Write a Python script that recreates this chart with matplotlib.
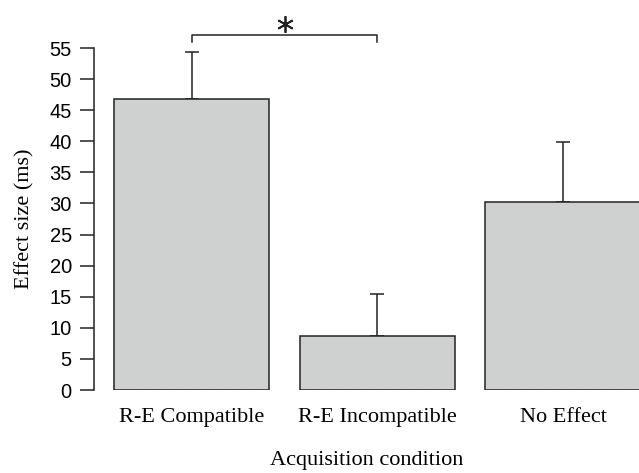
import numpy as np
import matplotlib
matplotlib.use('Agg')
import matplotlib.pyplot as plt

# data
conditions = ['R-E Compatible', 'R-E Incompatible', 'No Effect']
effect_ms = [46.8, 8.7, 30.2]
error_ms = [7.5, 6.7, 9.7]
y_ticks = list(range(0, 60, 5))

bar_color = '#cfd1d0'
edge_color = '#222222'
serif = ['Liberation Serif', 'DejaVu Serif']
sans = ['Liberation Sans', 'DejaVu Sans']

fig = plt.figure(figsize=(6.39, 4.73), dpi=100)
ax = fig.add_axes([94 / 639, 83 / 473, 545 / 639, 342 / 473])

x = np.arange(len(conditions))
ax.bar(x, effect_ms, width=0.835, color=bar_color, edgecolor=edge_color,
       linewidth=1.1, zorder=2)
# only the upper half of the error bars is drawn
ax.errorbar(x, effect_ms, yerr=[np.zeros(len(x)), error_ms], fmt='none',
            ecolor=edge_color, elinewidth=1.1, capsize=5, capthick=1.1, zorder=1)

ax.set_xlim(-0.528, 2.41)
ax.set_ylim(0, 55)
ax.set_yticks(y_ticks)
ax.set_yticklabels([str(t) for t in y_ticks], family=sans, fontsize=14.5)
ax.set_xticks(x)
ax.set_xticklabels(conditions, family=serif, fontsize=16)
ax.tick_params(axis='x', length=0, pad=13)
ax.tick_params(axis='y', length=10, width=1.1, pad=6, color=edge_color)

for side in ['top', 'right', 'bottom']:
    ax.spines[side].set_visible(False)
ax.spines['left'].set_linewidth(1.1)
ax.spines['left'].set_color(edge_color)

ax.set_ylabel('Effect size (ms)', family=serif, fontsize=16, labelpad=11)
ax.set_xlabel('Acquisition condition', family=serif, fontsize=16, labelpad=17)

# significance bracket between the first two bars
y_br = 57.1
ax.plot([x[0], x[0], x[1], x[1]], [56.0, y_br, y_br, 56.0], color=edge_color,
        linewidth=1.1, clip_on=False)
ax.plot([(x[0] + x[1]) / 2], [58.8], marker=(6, 2, 0), markersize=12,
        color=edge_color, markeredgewidth=1.3, clip_on=False)

fig.savefig('out.png', dpi=100)
